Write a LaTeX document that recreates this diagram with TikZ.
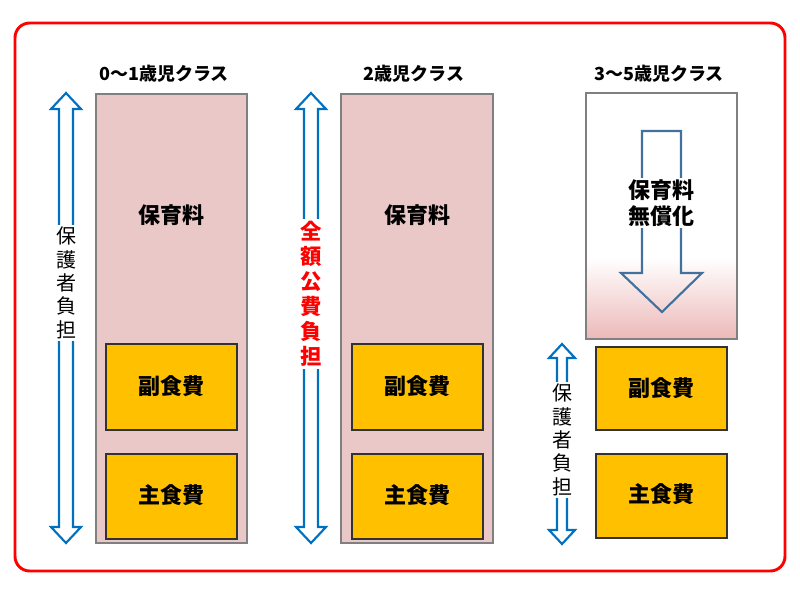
\documentclass[tikz,border=0pt]{standalone}
\usepackage{fontspec}
\setmainfont{Noto Sans CJK JP}
\definecolor{frame}{RGB}{255,0,0}
\definecolor{pinkfill}{RGB}{235,200,200}
\definecolor{boxgray}{RGB}{128,128,128}
\definecolor{yel}{RGB}{255,192,0}
\definecolor{arrowblue}{RGB}{0,112,192}
\definecolor{steel}{RGB}{65,113,156}
\definecolor{dark}{RGB}{50,50,50}
\tikzset{
  col/.style={draw=boxgray, line width=0.9pt, fill=pinkfill},
  foodbox/.style={draw=dark, line width=0.9pt, fill=yel},
  blab/.style={font=\fontsize{16.5}{19}\selectfont\bfseries},
  hdr/.style={font=\fontsize{13.5}{15}\selectfont\bfseries},
  dblarrow/.style={draw=arrowblue, line width=1.6pt, fill=white, line join=miter},
  vtext/.style={fill=white, inner sep=2pt, align=center, font=\fontsize{15}{17.5}\selectfont},
}
\begin{document}
\begin{tikzpicture}[x=0.75pt,y=-0.75pt]
\useasboundingbox (0,0) rectangle (800,600);
% outer frame
\draw[frame, line width=2.2pt, rounded corners=11pt] (15,23) rectangle (785,571);

% headers
\node[hdr] (h1) at (164,74) {0～1歳児クラス};
\node[hdr] (h2) at (414,74) {2歳児クラス};
\node[hdr] (h3) at (659,74) {3～5歳児クラス};

% column 1
\draw[col] (96,94) rectangle (247,543);
\node[blab] (c1fee) at (171,215) {保育料};
\draw[foodbox] (106,344) rectangle (237,430);
\node[blab] (c1side) at (171,386) {副食費};
\draw[foodbox] (106,454) rectangle (237,539);
\node[blab] (c1main) at (171,495) {主食費};

% column 2
\draw[col] (341,94) rectangle (493,543);
\node[blab] (c2fee) at (417,215) {保育料};
\draw[foodbox] (352,344) rectangle (483,430);
\node[blab] (c2side) at (417,386) {副食費};
\draw[foodbox] (352,454) rectangle (483,539);
\node[blab] (c2main) at (417,495) {主食費};

% column 3
\fill[white] (586,93) rectangle (737,258);
\shade[top color=white, bottom color=pinkfill!92!red] (586,258) rectangle (737,339);
\draw[boxgray, line width=0.9pt] (586,93) rectangle (737,339);
\draw[steel, line width=1.6pt, fill=none, line join=miter]
  (642,131) -- (681,131) -- (681,273) -- (702,273) -- (662,312) -- (621,273) -- (642,273) -- cycle;
\node[blab, fill=white, align=center, inner sep=1pt, font=\fontsize{16.5}{19.5}\selectfont\bfseries] (c3fee) at (661,203) {保育料\\無償化};
\draw[foodbox] (596,347) rectangle (727,430);
\node[blab] (c3side) at (661,388) {副食費};
\draw[foodbox] (596,454) rectangle (727,538);
\node[blab] (c3main) at (661,494) {主食費};

% double arrows
\draw[dblarrow] (66,93) -- (81,109) -- (73,109) -- (73,527) -- (81,527) -- (66,543) -- (51,527) -- (59,527) -- (59,109) -- (51,109) -- cycle;
\draw[dblarrow] (311,93) -- (326,109) -- (318,109) -- (318,527) -- (326,527) -- (311,543) -- (296,527) -- (304,527) -- (304,109) -- (296,109) -- cycle;
\draw[dblarrow] (562,344) -- (575,358) -- (567,358) -- (567,530) -- (575,530) -- (562,544) -- (549,530) -- (557,530) -- (557,358) -- (549,358) -- cycle;

% vertical texts
\node[vtext] (v1) at (66,283) {保\\護\\者\\負\\担};
\node[vtext, text=red, font=\fontsize{16}{18.75}\selectfont\bfseries] (v2) at (311,294) {全\\額\\公\\費\\負\\担};
\node[vtext] (v3) at (562,440) {保\\護\\者\\負\\担};
\end{tikzpicture}
\end{document}
